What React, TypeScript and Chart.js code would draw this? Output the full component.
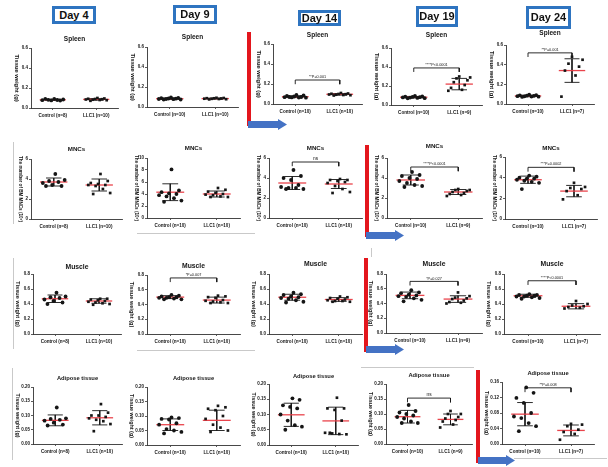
import React, { useEffect, useRef } from "react";
import { Chart, registerables } from "chart.js";

Chart.register(...registerables);

const FONT = "'Liberation Sans', Arial, Helvetica, sans-serif";

// ---------- text ----------
const days = ["Day 4", "Day 9", "Day 14", "Day 19", "Day 24"];
const rowTitles = ["Spleen", "MNCs", "Muscle", "Adipose tissue"];
const yAxisTitles = ["Tissue weight (g)", "The number of BM MNCs (10\u2077)", "Tissue weight (g)", "Tissue weight (g)"];
const controlLabels = ["Control (n=8)", "Control (n=10)", "Control (n=10)", "Control (n=10)", "Control (n=10)"];
const llc1Labels = ["LLC1 (n=10)", "LLC1 (n=10)", "LLC1 (n=10)", "LLC1 (n=9)", "LLC1 (n=7)"];

// ---------- spleen ----------
const spleenControl = [
  [0.09, 0.085, 0.082, 0.08, 0.078, 0.076, 0.075, 0.092],
  [0.095, 0.09, 0.088, 0.085, 0.083, 0.08, 0.08, 0.078, 0.075, 0.075],
  [0.09, 0.085, 0.08, 0.075, 0.07, 0.068, 0.066, 0.065, 0.063, 0.07],
  [0.095, 0.09, 0.088, 0.085, 0.082, 0.08, 0.078, 0.075, 0.072, 0.07],
  [0.095, 0.09, 0.088, 0.085, 0.083, 0.08, 0.078, 0.076, 0.074, 0.072],
];
const spleenLlc1 = [
  [0.1, 0.095, 0.092, 0.09, 0.088, 0.085, 0.083, 0.08, 0.078, 0.072],
  [0.092, 0.09, 0.088, 0.087, 0.085, 0.083, 0.082, 0.08, 0.078, 0.076],
  [0.11, 0.105, 0.102, 0.1, 0.098, 0.095, 0.093, 0.09, 0.088, 0.085],
  [0.3, 0.29, 0.28, 0.26, 0.24, 0.21, 0.18, 0.16, 0.15],
  [0.48, 0.45, 0.41, 0.38, 0.34, 0.29, 0.075],
];
const spleenControlMean = [0.082, 0.083, 0.073, 0.082, 0.082];
const spleenControlSd = [0.006, 0.007, 0.009, 0.008, 0.008];
const spleenLlc1Mean = [0.086, 0.084, 0.097, 0.22, 0.34];
const spleenLlc1Sd = [0.008, 0.005, 0.008, 0.06, 0.12];
const spleenYMax = [0.6, 0.6, 0.6, 0.6, 0.6];
const spleenYStep = [0.2, 0.2, 0.2, 0.2, 0.2];
const spleenBracket = [null, null, 0.24, 0.39, 0.52];
const spleenBracketText = ["", "", "**P=0.001", "****P<0.0001", "**P=0.001"];

// ---------- MNCs ----------
const mncControl = [
  [4.5, 3.9, 3.8, 3.7, 3.6, 3.4, 3.3, 3.3],
  [8.1, 4.6, 4.3, 4.1, 4.0, 3.8, 3.6, 3.3, 2.9, 2.7],
  [4.8, 4.2, 4.0, 3.8, 3.3, 3.1, 3.0, 3.0, 2.9, 2.9],
  [4.6, 4.3, 4.2, 4.0, 3.9, 3.7, 3.5, 3.3, 3.2, 3.1],
  [4.2, 4.1, 4.0, 3.9, 3.9, 3.8, 3.7, 3.6, 3.5, 2.9],
];
const mncLlc1 = [
  [4.5, 3.8, 3.6, 3.5, 3.4, 3.4, 3.3, 3.0, 2.6, 2.5],
  [5.0, 4.7, 4.4, 4.2, 4.0, 3.9, 3.8, 3.6, 3.5, 3.5],
  [3.9, 3.8, 3.8, 3.7, 3.6, 3.5, 3.2, 2.9, 2.6, 2.5],
  [2.9, 2.8, 2.8, 2.7, 2.6, 2.5, 2.4, 2.3, 2.2],
  [3.5, 3.1, 3.0, 2.9, 2.7, 2.3, 1.9],
];
const mncControlMean = [3.7, 4.3, 3.5, 3.8, 3.8];
const mncControlSd = [0.4, 1.4, 0.65, 0.5, 0.35];
const mncLlc1Mean = [3.4, 4.0, 3.4, 2.6, 2.7];
const mncLlc1Sd = [0.6, 0.5, 0.45, 0.25, 0.55];
const mncYMax = [6, 10, 6, 6, 6];
const mncYStep = [2, 2, 2, 2, 2];
const mncBracket = [null, null, 5.6, 5.1, 5.0];
const mncBracketText = ["", "", "ns", "****P<0.0001", "***P=0.0002"];

// ---------- Muscle ----------
const muscleControl = [
  [0.55, 0.5, 0.49, 0.48, 0.46, 0.44, 0.42, 0.4],
  [0.53, 0.52, 0.51, 0.5, 0.5, 0.49, 0.49, 0.48, 0.47, 0.47],
  [0.55, 0.53, 0.52, 0.5, 0.49, 0.48, 0.47, 0.45, 0.43, 0.42],
  [0.58, 0.55, 0.54, 0.52, 0.51, 0.5, 0.49, 0.47, 0.45, 0.43],
  [0.53, 0.52, 0.52, 0.51, 0.51, 0.5, 0.5, 0.49, 0.48, 0.47],
];
const muscleLlc1 = [
  [0.47, 0.47, 0.46, 0.45, 0.44, 0.43, 0.42, 0.41, 0.4, 0.39],
  [0.52, 0.51, 0.5, 0.49, 0.46, 0.45, 0.44, 0.43, 0.42, 0.42],
  [0.5, 0.49, 0.48, 0.47, 0.46, 0.45, 0.44, 0.44, 0.43, 0.43],
  [0.55, 0.5, 0.48, 0.47, 0.46, 0.44, 0.42, 0.41, 0.4],
  [0.44, 0.4, 0.38, 0.37, 0.36, 0.35, 0.34],
];
const muscleControlMean = [0.47, 0.5, 0.49, 0.51, 0.51];
const muscleControlSd = [0.05, 0.02, 0.04, 0.045, 0.02];
const muscleLlc1Mean = [0.44, 0.46, 0.46, 0.46, 0.37];
const muscleLlc1Sd = [0.03, 0.04, 0.025, 0.045, 0.035];
const muscleYMax = [0.8, 0.8, 0.8, 0.8, 0.8];
const muscleYStep = [0.2, 0.2, 0.2, 0.2, 0.2];
const muscleBracket = [null, 0.76, null, 0.7, 0.71];
const muscleBracketText = ["", "*P=0.007", "", "*P=0.027", "****P<0.0001"];

// ---------- Adipose tissue ----------
const adiposeControl = [
  [0.128, 0.09, 0.088, 0.085, 0.082, 0.075, 0.068, 0.065],
  [0.095, 0.093, 0.09, 0.088, 0.075, 0.07, 0.055, 0.05, 0.045, 0.04],
  [0.153, 0.148, 0.13, 0.125, 0.12, 0.1, 0.08, 0.065, 0.06, 0.05],
  [0.13, 0.11, 0.105, 0.1, 0.095, 0.09, 0.085, 0.075, 0.07, 0.07],
  [0.146, 0.132, 0.119, 0.106, 0.08, 0.071, 0.067, 0.054, 0.046, 0.033],
];
const adiposeLlc1 = [
  [0.14, 0.11, 0.1, 0.1, 0.095, 0.09, 0.085, 0.08, 0.07, 0.045],
  [0.135, 0.13, 0.125, 0.12, 0.1, 0.09, 0.07, 0.06, 0.05, 0.045],
  [0.155, 0.12, 0.12, 0.115, 0.08, 0.04, 0.038, 0.036, 0.035, 0.04],
  [0.11, 0.1, 0.1, 0.09, 0.085, 0.08, 0.075, 0.065, 0.055],
  [0.052, 0.05, 0.046, 0.037, 0.031, 0.026, 0.011],
];
const adiposeControlMean = [0.083, 0.07, 0.099, 0.091, 0.077];
const adiposeControlSd = [0.019, 0.02, 0.038, 0.021, 0.03];
const adiposeLlc1Mean = [0.092, 0.085, 0.079, 0.082, 0.035];
const adiposeLlc1Sd = [0.025, 0.035, 0.045, 0.018, 0.014];
const adiposeYMax = [0.2, 0.2, 0.2, 0.2, 0.16];
const adiposeYStep = [0.05, 0.05, 0.05, 0.05, 0.04];
const adiposeBracket = [null, null, null, 0.153, 0.145];
const adiposeBracketText = ["", "", "", "ns", "**P=0.008"];

// ---------- assembled per row ----------
const controlValues = [spleenControl, mncControl, muscleControl, adiposeControl];
const llc1Values = [spleenLlc1, mncLlc1, muscleLlc1, adiposeLlc1];
const controlMeans = [spleenControlMean, mncControlMean, muscleControlMean, adiposeControlMean];
const controlSds = [spleenControlSd, mncControlSd, muscleControlSd, adiposeControlSd];
const llc1Means = [spleenLlc1Mean, mncLlc1Mean, muscleLlc1Mean, adiposeLlc1Mean];
const llc1Sds = [spleenLlc1Sd, mncLlc1Sd, muscleLlc1Sd, adiposeLlc1Sd];
const yMaxes = [spleenYMax, mncYMax, muscleYMax, adiposeYMax];
const ySteps = [spleenYStep, mncYStep, muscleYStep, adiposeYStep];
const brackets = [spleenBracket, mncBracket, muscleBracket, adiposeBracket];
const bracketTexts = [spleenBracketText, mncBracketText, muscleBracketText, adiposeBracketText];

// ---------- layout (page pixels) ----------
const plotBoxes: number[][][] = [
  [[31, 48, 118, 108], [147, 47, 238, 107], [273, 44, 362, 104], [391, 48, 482, 105], [506, 45, 594, 104]],
  [[31, 159, 122, 219], [147, 158, 240, 218], [269, 158, 362, 218], [387, 158, 482, 218], [505, 157, 597, 219]],
  [[33, 274, 121, 334], [147, 275, 240, 334], [269, 274, 362, 334], [386, 274, 482, 333], [504, 274, 600, 334]],
  [[33, 387, 122, 444], [147, 387, 240, 445], [269, 384, 358, 445], [386, 384, 472, 444], [502, 382, 594, 444]],
];
const titleYs = [
  [39, 37, 35, 35, 33],
  [149, 148, 148, 146, 148],
  [267, 266, 264, 264, 264],
  [378, 378, 376, 375, 373],
];
const titleSizes = [6.5, 6.2, 6.8, 5.8];
const yTitleSizes = [5.8, 4.6, 5.6, 5.4];
const yTitleOffsets = [14, 11, 15, 16];

const ML = 24;
const MT = 18;
const MR = 6;
const MB = 14;
const WY = 12;

const RED = "rgba(232,58,66,0.95)";
const INK = "#151515";

function gcd(a: number, b: number): number {
  return b === 0 ? a : gcd(b, a % b);
}

function spread(n: number, half: number): number[] {
  if (n <= 1) return [0];
  let k = 3;
  while (gcd(k, n) !== 1) k++;
  const c = Math.floor(n / 2);
  return Array.from({ length: n }, (_, i) => -half + (2 * half * ((i * k + c) % n)) / (n - 1));
}

function sdShape(cx: number, m: number, s: number, cap: number) {
  return [
    { x: cx - cap, y: m + s },
    { x: cx + cap, y: m + s },
    { x: cx, y: null },
    { x: cx, y: m + s },
    { x: cx, y: m - s },
    { x: cx, y: null },
    { x: cx - cap, y: m - s },
    { x: cx + cap, y: m - s },
  ];
}

function Panel({ row, col }: { row: number; col: number }) {
  const ref = useRef<HTMLCanvasElement>(null);
  const [x0, y0, x1, y1] = plotBoxes[row][col];
  const left = x0 - ML;
  const top = y0 - MT;
  const width = x1 - x0 + ML + MR;
  const height = y1 - y0 + MT + MB;

  useEffect(() => {
    const ctrl = controlValues[row][col];
    const llc = llc1Values[row][col];
    const yMax = yMaxes[row][col];
    const yStep = ySteps[row][col];
    const dec = yStep >= 1 ? 0 : yStep >= 0.1 ? 1 : 2;
    const br = brackets[row][col];
    const brText = bracketTexts[row][col];
    const drop = yMax * 0.07;
    const offC = spread(ctrl.length, 0.24);
    const offL = spread(llc.length, 0.24);
    const mc = controlMeans[row][col];
    const sc = controlSds[row][col];
    const ml = llc1Means[row][col];
    const sl = llc1Sds[row][col];

    const datasets: any[] = [
      {
        data: ctrl.map((v, i) => ({ x: 0 + offC[i], y: v })),
        pointStyle: "circle",
        pointRadius: 1.9,
        backgroundColor: INK,
        borderColor: INK,
        borderWidth: 0,
        showLine: false,
      },
      {
        data: llc.map((v, i) => ({ x: 1 + offL[i], y: v })),
        pointStyle: "rect",
        pointRadius: 1.9,
        backgroundColor: INK,
        borderColor: INK,
        borderWidth: 0,
        showLine: false,
      },
      {
        data: [{ x: -0.3, y: mc }, { x: 0.3, y: mc }],
        showLine: true,
        borderColor: RED,
        borderWidth: 1.3,
        pointRadius: 0,
      },
      {
        data: [{ x: 0.7, y: ml }, { x: 1.3, y: ml }],
        showLine: true,
        borderColor: RED,
        borderWidth: 1.3,
        pointRadius: 0,
      },
      {
        data: sdShape(0, mc, sc, 0.17),
        showLine: true,
        spanGaps: false,
        borderColor: INK,
        borderWidth: 0.9,
        pointRadius: 0,
      },
      {
        data: sdShape(1, ml, sl, 0.17),
        showLine: true,
        spanGaps: false,
        borderColor: INK,
        borderWidth: 0.9,
        pointRadius: 0,
      },
    ];
    if (br !== null) {
      datasets.push({
        data: [
          { x: 0, y: br - drop },
          { x: 0, y: br },
          { x: 1, y: br },
          { x: 1, y: br - drop },
        ],
        showLine: true,
        borderColor: INK,
        borderWidth: 0.9,
        pointRadius: 0,
      });
    }

    const annot = {
      id: "annot",
      afterDatasetsDraw(chart: any) {
        const { ctx, chartArea, scales } = chart;
        ctx.save();
        ctx.fillStyle = INK;
        ctx.textAlign = "center";
        ctx.textBaseline = "middle";
        ctx.font = `bold ${titleSizes[row]}px ${FONT}`;
        ctx.fillText(rowTitles[row], (chartArea.left + chartArea.right) / 2, titleYs[row][col] - top);

        ctx.save();
        ctx.translate(chartArea.left - yTitleOffsets[row], (chartArea.top + chartArea.bottom) / 2);
        ctx.rotate(Math.PI / 2);
        ctx.font = `bold ${yTitleSizes[row]}px ${FONT}`;
        ctx.fillText(yAxisTitles[row], 0, 0);
        ctx.restore();

        if (br !== null && brText) {
          ctx.font = `${brText === "ns" ? 4.8 : 3.8}px ${FONT}`;
          ctx.textBaseline = "bottom";
          ctx.fillText(brText, scales.x.getPixelForValue(0.5), scales.y.getPixelForValue(br) - 1);
        }
        ctx.restore();
      },
    };

    const chart = new Chart(ref.current as HTMLCanvasElement, {
      type: "scatter",
      data: { datasets },
      plugins: [annot],
      options: {
        animation: false,
        responsive: false,
        events: [],
        layout: { padding: { left: ML - WY, top: MT, right: MR, bottom: 0 } },
        plugins: {
          legend: { display: false },
          tooltip: { enabled: false },
          title: { display: false },
        },
        scales: {
          x: {
            type: "linear",
            min: -0.5,
            max: 1.5,
            afterBuildTicks: (s: any) => {
              s.ticks = [{ value: 0 }, { value: 1 }];
            },
            afterFit: (s: any) => {
              s.height = MB;
            },
            ticks: {
              autoSkip: false,
              maxRotation: 0,
              minRotation: 0,
              padding: 3,
              color: INK,
              font: { size: 4.6, weight: "bold", family: FONT },
              callback: (v: any) => (Number(v) === 0 ? controlLabels[col] : llc1Labels[col]),
            },
            grid: { drawOnChartArea: false, drawTicks: true, tickLength: 2, color: "#333", lineWidth: 0.8 },
            border: { display: true, color: "#333", width: 0.9 },
          },
          y: {
            type: "linear",
            min: 0,
            max: yMax,
            afterFit: (s: any) => {
              s.width = WY;
            },
            ticks: {
              stepSize: yStep,
              padding: 1,
              color: INK,
              font: { size: 4.5, weight: "bold", family: FONT },
              callback: (v: any) => Number(v).toFixed(dec),
            },
            grid: { drawOnChartArea: false, drawTicks: true, tickLength: 2, color: "#333", lineWidth: 0.8 },
            border: { display: true, color: "#333", width: 0.9 },
          },
        },
      } as any,
    });
    return () => chart.destroy();
  }, [row, col]);

  return (
    <canvas
      ref={ref}
      width={width}
      height={height}
      style={{ position: "absolute", left, top, width, height }}
    />
  );
}

// ---------- decorations (page pixels) ----------
const dayBoxes = [
  [52, 6, 44, 18],
  [173, 5, 44, 19],
  [298, 10, 43, 16],
  [416, 6, 42, 21],
  [526, 6, 45, 23],
];
const redLines = [
  [247, 32, 4, 94],
  [365, 145, 4, 92],
  [364, 258, 4, 94],
  [476, 370, 4, 93],
];
const arrows = [
  [248, 287, 124],
  [366, 404, 235],
  [366, 404, 349],
  [478, 515, 460],
];
const grayLines = [
  [13, 142, 1, 82],
  [13, 258, 1, 91],
  [12, 368, 1, 92],
  [137, 233, 118, 1],
  [137, 350, 118, 1],
  [361, 367, 113, 1],
  [514, 458, 93, 1],
  [371, 248, 1, 9],
];

function Arrow({ x0, x1, yc }: { x0: number; x1: number; yc: number }) {
  const bh = 7;
  const hh = 11;
  const hl = 9;
  const w = x1 - x0;
  const a = (hh - bh) / 2;
  const b = (hh + bh) / 2;
  const pts = `0,${a} ${w - hl},${a} ${w - hl},0 ${w},${hh / 2} ${w - hl},${hh} ${w - hl},${b} 0,${b}`;
  return (
    <svg style={{ position: "absolute", left: x0, top: yc - hh / 2 }} width={w} height={hh}>
      <polygon points={pts} fill="#4472c4" />
    </svg>
  );
}

export default function App() {
  const panels: React.ReactNode[] = [];
  for (let r = 0; r < 4; r++) {
    for (let c = 0; c < 5; c++) {
      panels.push(<Panel key={`p${r}${c}`} row={r} col={c} />);
    }
  }
  return (
    <div
      style={{
        position: "fixed",
        left: 0,
        top: 0,
        width: 608,
        height: 467,
        background: "#ffffff",
        overflow: "hidden",
        fontFamily: FONT,
      }}
    >
      {grayLines.map(([l, t, w, h], i) => (
        <div key={`g${i}`} style={{ position: "absolute", left: l, top: t, width: w, height: h, background: "#c9c9c9" }} />
      ))}
      {panels}
      {days.map((d, i) => {
        const [l, t, w, h] = dayBoxes[i];
        return (
          <div
            key={d}
            style={{
              position: "absolute",
              left: l,
              top: t,
              width: w,
              height: h,
              boxSizing: "border-box",
              border: "3px solid #2e74c0",
              background: "#fff",
              display: "flex",
              alignItems: "center",
              justifyContent: "center",
              fontWeight: "bold",
              fontSize: 11,
              lineHeight: "11px",
              color: "#111",
              whiteSpace: "nowrap",
            }}
          >
            {d}
          </div>
        );
      })}
      {redLines.map(([l, t, w, h], i) => (
        <div key={`r${i}`} style={{ position: "absolute", left: l, top: t, width: w, height: h, background: "#e3161d" }} />
      ))}
      {arrows.map(([a, b, y], i) => (
        <Arrow key={`a${i}`} x0={a} x1={b} yc={y} />
      ))}
    </div>
  );
}
